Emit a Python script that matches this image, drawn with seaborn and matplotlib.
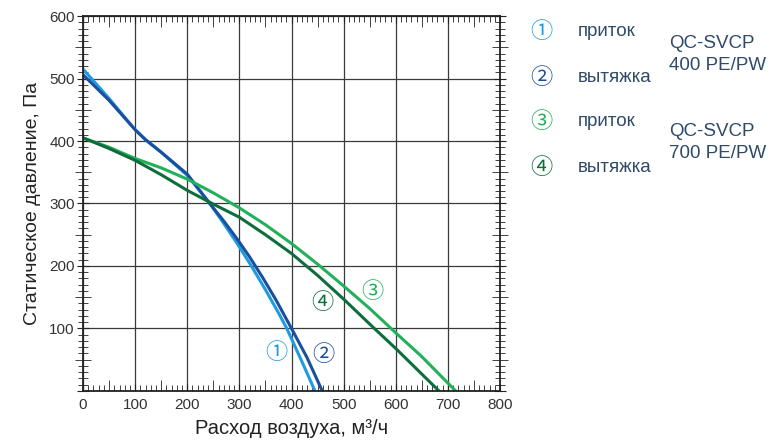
import numpy as np
import pandas as pd
import matplotlib
matplotlib.use("Agg")
import matplotlib.pyplot as plt
from matplotlib.ticker import MultipleLocator, FuncFormatter
import seaborn as sns

# кривые вентиляторов (расход м3/ч, давление Па)
flow_1 = [0, 50, 100, 120, 150, 200, 245, 270, 295, 323, 350, 375, 391, 420, 445]
pres_1 = [515, 468, 418, 402, 382, 345, 298, 268, 237, 200, 162, 125, 100, 47, 0]

flow_2 = [0, 50, 100, 120, 150, 200, 245, 270, 295, 320, 345, 370, 400, 430, 459]
pres_2 = [506, 465, 418, 402, 382, 347, 298, 272, 244, 214, 181, 146, 100, 53, 0]

flow_3 = [0, 50, 100, 150, 200, 250, 300, 350, 400, 450, 500, 550, 600, 650, 715]
pres_3 = [405, 390, 372, 357, 339, 317, 293, 266, 236, 203, 168, 132, 93, 55, 0]

flow_4 = [0, 50, 100, 150, 200, 250, 300, 350, 400, 450, 500, 559, 600, 683]
pres_4 = [405, 388, 369, 346, 321, 299, 278, 250, 220, 185, 147, 100, 68, 0]

curve_names = ['1', '2', '3', '4']
curve_marks = ['\u2460', '\u2461', '\u2462', '\u2463']
curve_text = ['приток', 'вытяжка', 'приток', 'вытяжка']
colors = ['#1e9be0', '#1a4f9c', '#22b05a', '#0e6d3a']
models = ['QC-SVCP\n400 PE/PW', 'QC-SVCP\n700 PE/PW']

df = pd.concat([
    pd.DataFrame({'flow': f, 'pres': p, 'curve': c})
    for f, p, c in zip([flow_1, flow_2, flow_3, flow_4],
                       [pres_1, pres_2, pres_3, pres_4], curve_names)
])

sns.set_style('white')
plt.rcParams['font.family'] = ['Liberation Sans', 'DejaVu Sans']
mark_font = ['Noto Sans CJK JP', 'DejaVu Sans']

fig = plt.figure(figsize=(7.71, 4.41), dpi=100)
ax = fig.add_axes([0.1077, 0.1134, 0.5408, 0.8503])

sns.lineplot(data=df, x='flow', y='pres', hue='curve', palette=colors,
             estimator=None, sort=False, legend=False, linewidth=2.2, ax=ax)

ax.set_xlim(0, 800)
ax.set_ylim(0, 600)
ax.xaxis.set_major_locator(MultipleLocator(100))
ax.yaxis.set_major_locator(MultipleLocator(100))
ax.xaxis.set_minor_locator(MultipleLocator(10))
ax.yaxis.set_minor_locator(MultipleLocator(10))
ax.yaxis.set_major_formatter(FuncFormatter(lambda v, p: '' if v == 0 else f'{v:.0f}'))
ax.grid(True, which='major', color='#3a3a3a', linewidth=0.9)
ax.set_axisbelow(True)

for s in ax.spines.values():
    s.set_color('#222222')
    s.set_linewidth(1.3)

ax.tick_params(axis='x', which='both', direction='in', top=True, bottom=True,
               labelsize=11, labelcolor='#333333', color='#222222', pad=5)
ax.tick_params(axis='x', which='major', length=5)
ax.tick_params(axis='x', which='minor', length=4)
ax.tick_params(axis='y', which='both', direction='inout', left=True,
               labelsize=11, labelcolor='#333333', color='#222222', pad=2)
ax.tick_params(axis='y', which='major', length=8)
ax.tick_params(axis='y', which='minor', length=7)
ax.tick_params(axis='y', which='both', right=True)

# длинные штрихи на 50
for t, loc in zip(ax.xaxis.get_minor_ticks(), ax.xaxis.get_minorticklocs()):
    if round(loc) % 100 == 50:
        t.tick1line.set_markersize(8)
        t.tick2line.set_markersize(8)
for t, loc in zip(ax.yaxis.get_minor_ticks(), ax.yaxis.get_minorticklocs()):
    if round(loc) % 100 == 50:
        t.tick1line.set_markersize(12)
        t.tick2line.set_markersize(12)

ax.set_xlabel('Расход воздуха, м³/ч', fontsize=14.5, color='#222222', labelpad=5)
ax.set_ylabel('Статическое давление, Па', fontsize=14, color='#222222', labelpad=6)

# номера кривых на графике
label_pos = [(371, 61), (461, 58), (556, 159), (459, 142)]
for (x, y), m, c in zip(label_pos, curve_marks, colors):
    ax.text(x, y, m, color=c, fontsize=16, ha='center', va='center',
            family=mark_font)

# легенда справа
txt_col = '#2e4a68'
leg_y = [31, 77, 122, 167]
for y, m, t, c in zip(leg_y, curve_marks, curve_text, colors):
    fig.text(541 / 771, 1 - y / 441, m, color=c, fontsize=16,
             ha='center', va='center', family=mark_font)
    fig.text(578 / 771, 1 - y / 441, t, color=txt_col, fontsize=13.5,
             ha='left', va='center')
for y, m in zip([43, 131], models):
    for k, line in enumerate(m.split('\n')):
        fig.text(669 / 771, 1 - (y + 22 * k) / 441, line, color=txt_col,
                 fontsize=13.5, ha='left', va='center')

fig.savefig('out.png', dpi=100)
